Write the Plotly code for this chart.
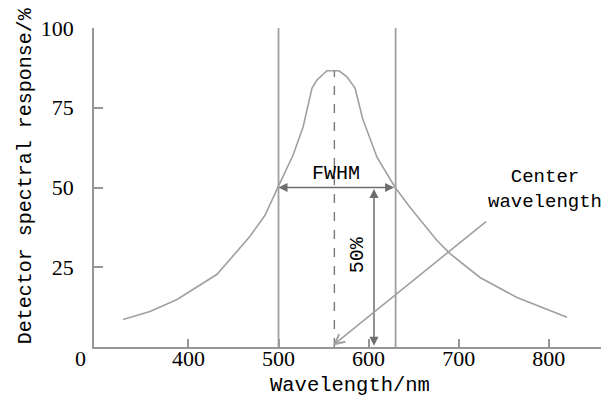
import plotly.graph_objects as go

# Spectral response curve
wavelength = [327.4, 357.4, 387.4, 431.8, 468.4, 485.0, 499.4, 516.1, 527.2, 537.2,
              542.7, 553.8, 567.1, 576.0, 584.9, 593.5, 609.3, 629.3, 645.9,
              675.9, 690.3, 723.6, 764.7, 820.2]
response = [8.6, 11.1, 14.9, 22.8, 34.7, 41.3, 50.1, 60.1, 68.9, 81.2,
            83.7, 86.6, 86.6, 84.7, 81.2, 71.5, 59.5, 50.1, 43.8,
            33.4, 29.3, 21.8, 15.5, 9.3]

fwhm_left = 500
fwhm_right = 630
center_wl = 562
peak_value = 86.6
half_value = 50
half_arrow_wl = 606
center_label_tail = (732, 39.7)

x_ticks = [400, 500, 600, 700, 800]
y_ticks = [25, 50, 75, 100]

x_range = [295.2, 863.5]
y_range = [0, 100]

GRAY = "rgb(160,160,160)"
AXIS = "rgb(150,150,150)"
DARK = "rgb(110,110,110)"
MONO = "Liberation Mono"
SERIF = "Liberation Serif"

fig = go.Figure()
fig.add_trace(go.Scatter(x=wavelength, y=response, mode="lines",
                         line=dict(color=GRAY, width=1.6), hoverinfo="skip",
                         showlegend=False))

shapes = [
    dict(type="line", xref="x", yref="y", x0=fwhm_left, x1=fwhm_left, y0=0, y1=100,
         line=dict(color=GRAY, width=1.8)),
    dict(type="line", xref="x", yref="y", x0=fwhm_right, x1=fwhm_right, y0=0, y1=100,
         line=dict(color=GRAY, width=1.8)),
    dict(type="line", xref="x", yref="y", x0=center_wl, x1=center_wl, y0=0, y1=peak_value,
         line=dict(color="rgb(120,120,120)", width=1.4, dash="dash")),
]

C = dict(xanchor="center", yanchor="middle")

annotations = [
    # FWHM double arrow
    dict(x=fwhm_left, y=half_value, ax=fwhm_right, ay=half_value, xref="x", yref="y",
         axref="x", ayref="y", text="", showarrow=True, arrowhead=2, startarrowhead=2,
         arrowside="end+start", arrowsize=1.2, startarrowsize=1.2, arrowwidth=1.5,
         arrowcolor=DARK, standoff=0, startstandoff=0),
    # 50% double arrow
    dict(x=half_arrow_wl, y=0.4, ax=half_arrow_wl, ay=half_value, xref="x", yref="y",
         axref="x", ayref="y", text="", showarrow=True, arrowhead=2, startarrowhead=2,
         arrowside="end+start", arrowsize=1.2, startarrowsize=1.2, arrowwidth=1.5,
         arrowcolor=DARK, standoff=0, startstandoff=0),
    # center wavelength pointer
    dict(x=center_wl - 1.5, y=0.5, ax=center_label_tail[0], ay=center_label_tail[1],
         xref="x", yref="y", axref="x", ayref="y", text="", showarrow=True,
         arrowhead=5, arrowsize=1.2, arrowwidth=1.6, arrowcolor=GRAY, standoff=0),
    dict(x=564, y=54.3, xref="x", yref="y", text="FWHM", showarrow=False,
         font=dict(family=MONO, size=20, color="black"), **C),
    dict(x=588, y=29, xref="x", yref="y", text="50%", showarrow=False, textangle=-90,
         font=dict(family=MONO, size=20, color="black"), **C),
    dict(x=0.88, y=0.495, xref="paper", yref="paper", text="Center<br>wavelength",
         showarrow=False, align="center",
         font=dict(family=MONO, size=19, color="black"), **C),
    dict(x=-0.135, y=0.538, xref="paper", yref="paper", text="Detector spectral response/%",
         showarrow=False, textangle=-90,
         font=dict(family=MONO, size=20, color="black"), **C),
    dict(x=0.5, y=-0.121, xref="paper", yref="paper", text="Wavelength/nm",
         showarrow=False, font=dict(family=MONO, size=20.5, color="black"), **C),
    dict(x=-0.027, y=-0.036, xref="paper", yref="paper", text="0", showarrow=False,
         font=dict(family=SERIF, size=22, color="black"), **C),
]

# page body has an 8px default margin, so the figure is sized to fit the window
fig.update_layout(
    width=601, height=388,
    margin=dict(l=86, r=3, t=20, b=49),
    paper_bgcolor="white", plot_bgcolor="white",
    shapes=shapes, annotations=annotations,
    xaxis=dict(range=x_range, tickvals=x_ticks, ticks="inside", ticklen=8,
               tickcolor=AXIS, tickwidth=1.5, showline=True, linecolor=AXIS,
               linewidth=1.8, showgrid=False, zeroline=False, automargin=False,
               ticklabelstandoff=-9,
               tickfont=dict(family=SERIF, size=22, color="black")),
    yaxis=dict(range=y_range, tickvals=y_ticks, ticks="inside", ticklen=9,
               tickcolor=AXIS, tickwidth=1.5, showline=True, linecolor=AXIS,
               linewidth=1.8, showgrid=False, zeroline=False, automargin=False,
               ticklabelstandoff=14,
               tickfont=dict(family=SERIF, size=22, color="black")),
)

fig.write_html("out.html")
